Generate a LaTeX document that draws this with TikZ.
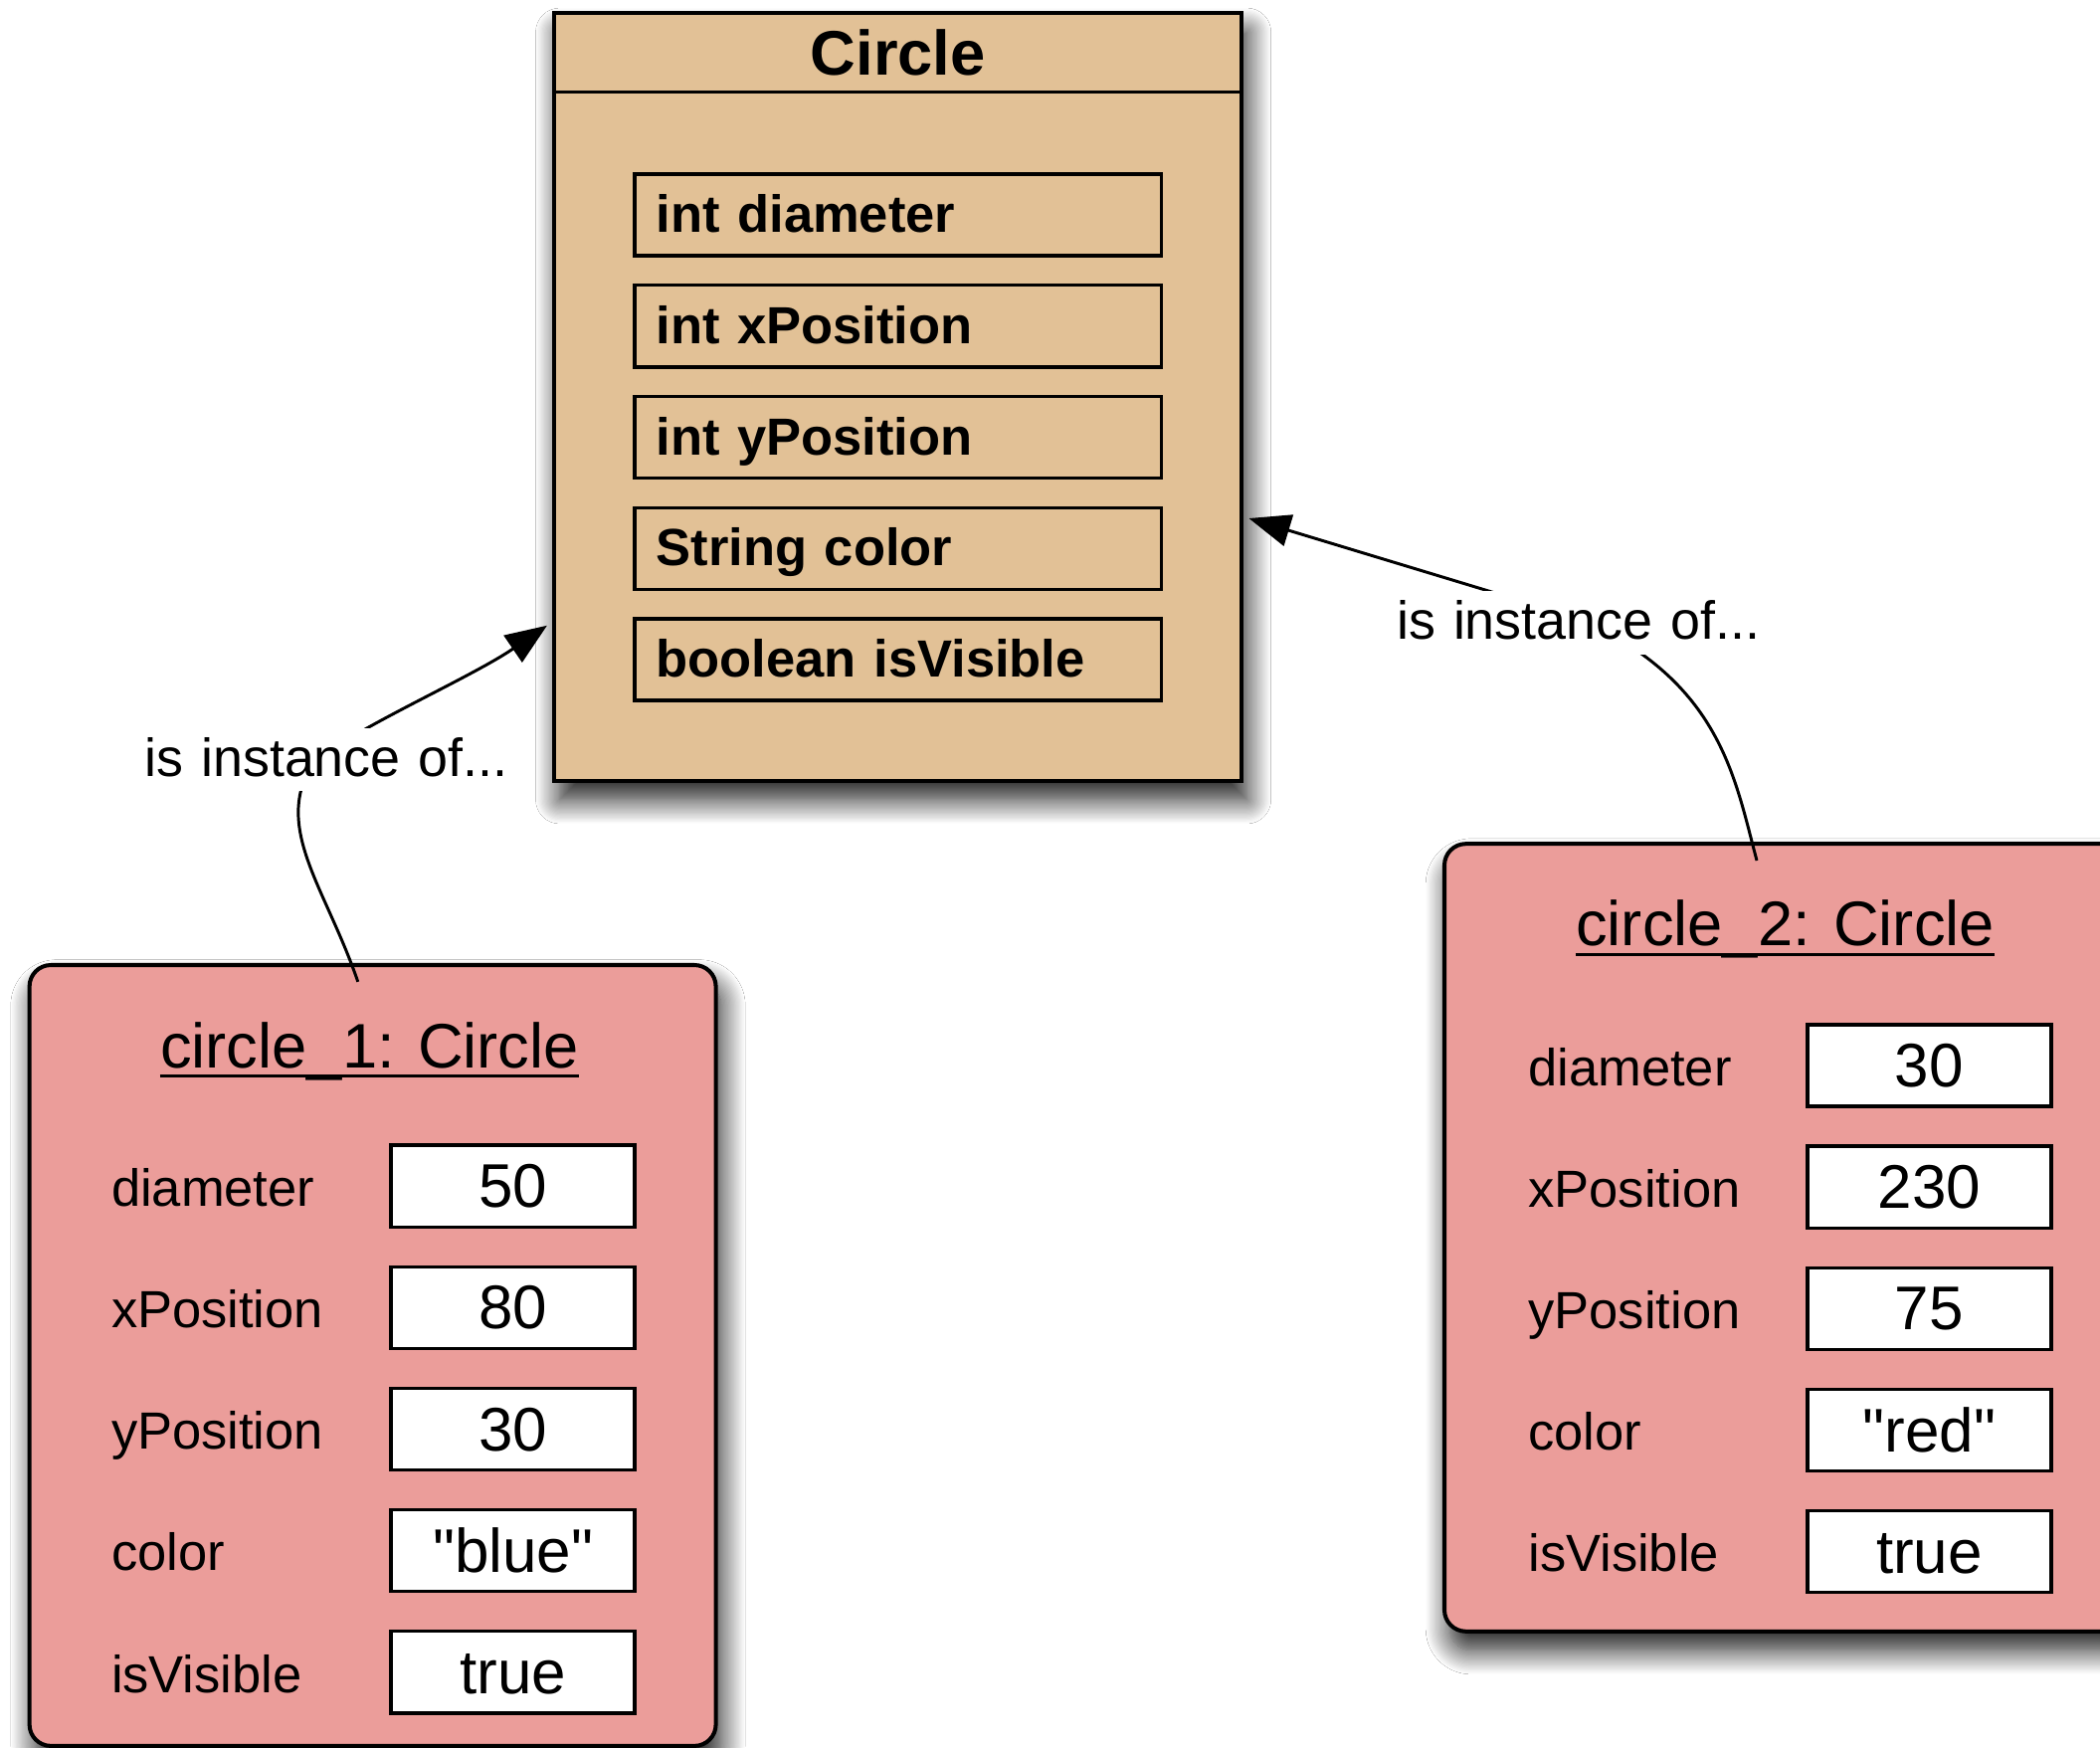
\documentclass[tikz,border=0pt]{standalone}
\usepackage{fontspec}
\setmainfont{Liberation Sans}
\usetikzlibrary{arrows.meta,shadows.blur,calc}
\definecolor{clsfill}{RGB}{226,193,150}
\definecolor{objfill}{RGB}{235,157,154}
\begin{document}
\begin{tikzpicture}[x=1pt,y=-1pt,
 shadowed/.style={blur shadow={shadow xshift=4pt,shadow yshift=-14pt,shadow blur radius=18pt,shadow blur steps=20,shadow opacity=90}},
 classbox/.style={draw, line width=3pt, fill=clsfill, shadowed, inner sep=0pt},
 objbox/.style={draw, line width=3pt, fill=objfill, rounded corners=16pt, shadowed, inner sep=0pt},
 attrbox/.style={draw, line width=2.5pt, minimum height=61pt, text width=361pt, align=left, inner xsep=16pt, inner ysep=0pt, text height=30pt, text depth=4pt, font=\fontsize{39}{45}\selectfont\bfseries},
 valbox/.style={draw, fill=white, line width=2.5pt, minimum width=182pt, minimum height=61pt, inner sep=0pt, text height=36pt, text depth=4pt, font=\fontsize{46}{52}\selectfont},
 fieldlabel/.style={anchor=base west, inner sep=0pt, font=\fontsize{39}{45}\selectfont},
 objtitle/.style={anchor=base, inner sep=0pt, font=\fontsize{47}{54}\selectfont},
 link/.style={line width=2.2pt, -{Triangle[length=31pt,width=24pt]}},
 instlabel/.style={fill=white, text width=282pt, align=left, inner xsep=8pt, inner ysep=4pt, text height=32pt, text depth=7pt, font=\fontsize{40}{46}\selectfont}
]
\useasboundingbox (0,0) rectangle (1568,1305);
\clip (0,0) rectangle (1568,1305);
\fill[white] (0,0) rectangle (1568,1305);

% class box
\node[classbox, minimum width=513pt, minimum height=573pt] (cls) at (670.5,296.5) {};
\node[anchor=base, inner sep=0pt, font=\fontsize{47}{54}\selectfont\bfseries] (clstitle) at (670.5,56) {Circle};
\draw[line width=2.5pt] ([yshift=-60pt]cls.north west) -- ([yshift=-60pt]cls.north east);
\node[attrbox] (a1) at (670.5,160.5) {int diameter};
\node[attrbox] (a2) at (670.5,243.5) {int xPosition};
\node[attrbox] (a3) at (670.5,326.5) {int yPosition};
\node[attrbox] (a4) at (670.5,409.5) {String color};
\node[attrbox] (a5) at (670.5,492.5) {boolean isVisible};

% object 1
\node[objbox, minimum width=512.5pt, minimum height=583pt] (o1) at (278.25,1012) {};
\node[objtitle] (t1) at (276,797) {circle\_1: Circle};
\draw[line width=2.5pt] ([yshift=-6.5pt]t1.base west) -- ([yshift=-6.5pt]t1.base east);
\foreach \lab/\val [count=\i] in {diameter/50, xPosition/80, yPosition/30, color/\textquotedbl blue\textquotedbl, isVisible/true}{
  \pgfmathsetmacro\yy{885.5+(\i-1)*90.75}
  \node[valbox] (o1v\i) at (383,\yy) {\val};
  \node[fieldlabel] (o1l\i) at (83,\yy+15) {\lab};
}

% object 2
\node[objbox, minimum width=512.5pt, minimum height=588pt] (o2) at (1334.75,924) {};
\node[objtitle] (t2) at (1333,706) {circle\_2: Circle};
\draw[line width=2.5pt] ([yshift=-6.5pt]t2.base west) -- ([yshift=-6.5pt]t2.base east);
\foreach \lab/\val [count=\i] in {diameter/30, xPosition/230, yPosition/75, color/\textquotedbl red\textquotedbl, isVisible/true}{
  \pgfmathsetmacro\yy{795.5+(\i-1)*90.75}
  \node[valbox] (o2v\i) at (1440.5,\yy) {\val};
  \node[fieldlabel] (o2l\i) at (1141,\yy+15) {\lab};
}

% connectors
\coordinate (s1) at ($(o1.north)+(-11,14)$);
\coordinate (e1) at ($(cls.west)+(-4,170.5)$);
\draw[link] (s1) .. controls +(-24,-70) and (205,620) .. (232,572) .. controls (255,548) and (350,507) .. (e1);
\coordinate (s2) at ($(o2.north)+(-23,14)$);
\coordinate (e2) at ($(cls.east)+(4,90.5)$);
\draw[link] (s2) .. controls (1295,580) and (1285,510) .. (1180,462) -- (e2);

\node[instlabel] (il1) at (249,567) {is instance of...};
\node[instlabel] (il2) at (1184,465) {is instance of...};
\end{tikzpicture}
\end{document}
